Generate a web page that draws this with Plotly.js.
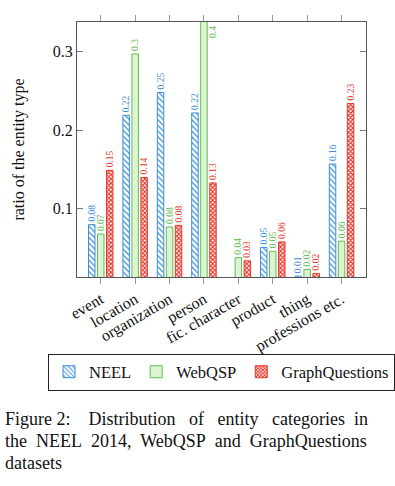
<!DOCTYPE html>
<html>
<head>
<meta charset="utf-8">
<script src="https://cdn.plot.ly/plotly-3.0.1.min.js"></script>
<style>
  html, body { margin: 0; padding: 0; background: #fff; }
  #chart { width: 395px; height: 486px; }
</style>
</head>
<body>
<div id="chart"></div>
<script>
const categories = ['event', 'location', 'organization', 'person', 'fic. character', 'product', 'thing', 'professions etc.']
const neel = [0.08, 0.219, 0.248, 0.222, null, 0.051, 0.0145, 0.157]
const webqsp = [0.068, 0.297, 0.077, 0.4, 0.038, 0.046, 0.023, 0.059]
const graphq = [0.149, 0.14, 0.079, 0.133, 0.034, 0.058, 0.018, 0.234]
const series_names = ['NEEL', 'WebQSP', 'GraphQuestions']
const y_ticks = [0.1, 0.2, 0.3]

const y_range = [0.0134, 0.3376]
const serif = 'Liberation Serif'
const blue = '#3b8fd3'
const green = '#62bd4f'
const red = '#e8372c'

function label(v){
  if(v === null) return ''
  if(v > y_range[1]) return ''
  return String(Number(v.toFixed(2)))
}

let traces = [
  {
    name: series_names[0], x: categories, y: neel, type: 'bar',
    marker: {color: 'white', line: {color: blue, width: 1},
      pattern: {shape: '\\', fgcolor: blue, bgcolor: 'white', size: 4, solidity: 0.3}},
    text: neel.map(label), textfont: {color: blue}
  },
  {
    name: series_names[1], x: categories, y: webqsp, type: 'bar',
    marker: {color: '#dcf4d2', line: {color: green, width: 1}},
    text: webqsp.map(label), textfont: {color: green}
  },
  {
    name: series_names[2], x: categories, y: graphq, type: 'bar',
    marker: {color: 'white', line: {color: red, width: 1},
      pattern: {shape: 'x', fgcolor: red, bgcolor: 'white', size: 3, solidity: 0.6}},
    text: graphq.map(label), textfont: {color: red}
  }
]
traces.forEach(t => {
  t.textposition = 'outside'
  t.textangle = -90
  t.constraintext = 'none'
  t.cliponaxis = true
  t.textfont.family = serif
  t.textfont.size = 9.5
  t.hoverinfo = 'skip'
})

// labels of bars that run past the top of the axis
let annotations = []
let colors = [blue, green, red]
let shifts = [-9, 9, 18];
[neel, webqsp, graphq].forEach((vals, s) => {
  vals.forEach((v, i) => {
    if(v !== null && v > y_range[1]){
      annotations.push({
        x: categories[i], y: y_range[1], xref: 'x', yref: 'y',
        text: String(Number(v.toFixed(2))), showarrow: false,
        textangle: -90, xanchor: 'center', yanchor: 'top',
        xshift: shifts[s], yshift: -2,
        font: {family: serif, size: 9.5, color: colors[s]}
      })
    }
  })
})

const caption = [
  'Figure\u00a02:\u00a0\u00a0\u00a0 Distribution\u00a0\u00a0 of\u00a0\u00a0 entity\u00a0\u00a0 categories\u00a0 in',
  'the\u00a0 NEEL\u00a0 2014,\u00a0 WebQSP\u00a0 and\u00a0 GraphQuestions',
  'datasets'
]
const caption_y = [-0.556, -0.645, -0.729]
caption.forEach((line, i) => {
  annotations.push({
    x: -0.256, y: caption_y[i], xref: 'paper', yref: 'paper',
    text: line, showarrow: false, xanchor: 'left', yanchor: 'middle',
    font: {family: serif, size: 18, color: '#111'}
  })
})

var layout = {
  width: 395,
  height: 486,
  margin: {l: 77, r: 29, t: 22, b: 209},
  paper_bgcolor: 'white',
  plot_bgcolor: 'white',
  barmode: 'group',
  bargap: 0.215,
  bargroupgap: 0.28,
  showlegend: true,
  legend: {
    orientation: 'h', x: -0.09, y: -0.3, xanchor: 'left', yanchor: 'top',
    bordercolor: '#222', borderwidth: 1, itemwidth: 30,
    font: {family: serif, size: 16.5, color: '#111'},
    tracegroupgap: 0
  },
  xaxis: {
    type: 'category',
    range: [-0.69, 7.71],
    showline: true, mirror: 'ticks', linecolor: '#555', linewidth: 1,
    ticks: 'outside', ticklen: 6, tickcolor: '#999',
    tickangle: -30,
    tickfont: {family: serif, size: 16, color: '#111'},
    showgrid: false, zeroline: false
  },
  yaxis: {
    range: y_range,
    tickvals: y_ticks,
    ticktext: y_ticks.map(String),
    showline: true, mirror: 'ticks', linecolor: '#555', linewidth: 1,
    ticks: 'inside', ticklen: 6, tickcolor: '#777',
    tickfont: {family: serif, size: 16, color: '#111'},
    showgrid: false, zeroline: false,
    title: {text: 'ratio of the entity type', font: {family: serif, size: 16, color: '#111'}, standoff: 24}
  },
  font: {family: serif},
  annotations: annotations
}

Plotly.newPlot('chart', traces, layout, {staticPlot: true})
</script>
</body>
</html>
